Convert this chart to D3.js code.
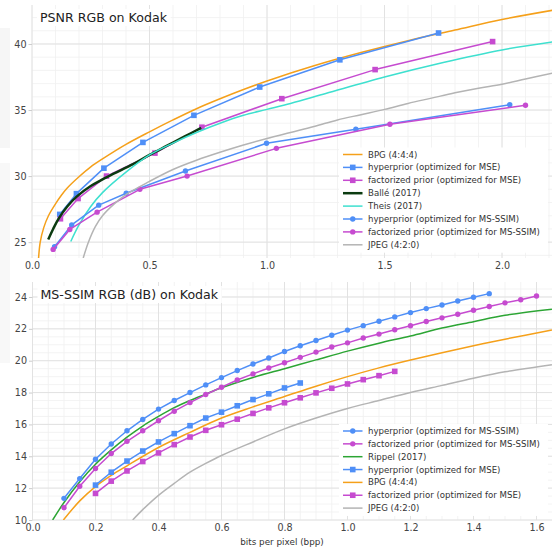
<!DOCTYPE html>
<html><head><meta charset="utf-8">
<script src="https://cdn.jsdelivr.net/npm/d3@7"></script>
<style>body{margin:0;background:#fff}svg{display:block;font-family:"DejaVu Sans",sans-serif}</style>
</head><body><svg id="c" width="552" height="548"></svg>
<script>
// ---------- PSNR panel data ----------
const psnrTicksX = [0.0, 0.5, 1.0, 1.5, 2.0];
const psnrTicksY = [25, 30, 35, 40];
const bpgPsnr = [[0.028,23.8],[0.035,25.0],[0.05,26.1],[0.07,27.0],[0.1,27.9],[0.125,28.55],[0.15,29.1],[0.2,29.95],[0.25,30.7],[0.3,31.3],[0.4,32.4],[0.5,33.35],[0.6,34.25],[0.7,35.1],[0.8,35.85],[0.9,36.55],[1.0,37.2],[1.2,38.35],[1.4,39.35],[1.6,40.25],[1.8,41.05],[2.0,41.85],[2.215,42.55]];
const hyperMsePsnr = [[0.118,27.1],[0.189,28.67],[0.306,30.6],[0.472,32.55],[0.689,34.6],[0.969,36.74],[1.31,38.8],[1.73,40.83]];
const factMsePsnr = [[0.121,26.77],[0.196,28.3],[0.317,30.0],[0.523,31.74],[0.723,33.7],[1.063,35.86],[1.46,38.06],[1.96,40.18]];
const ballePsnr = [[0.069,25.2],[0.09,26.0],[0.114,26.8],[0.15,27.7],[0.19,28.45],[0.25,29.25],[0.3,29.75],[0.35,30.2],[0.43,30.9],[0.5,31.6],[0.575,32.3],[0.65,33.0],[0.72,33.65]];
const theisPsnr = [[0.165,25.05],[0.2,26.3],[0.25,27.7],[0.3,28.75],[0.4,30.3],[0.5,31.6],[0.6,32.5],[0.7,33.3],[0.8,34.0],[0.9,34.6],[1.0,35.05],[1.1,35.5],[1.25,36.25],[1.5,37.5],[1.75,38.6],[2.0,39.55],[2.215,40.15]];
const hyperSsimPsnr = [[0.096,24.65],[0.169,26.3],[0.284,27.8],[0.401,28.7],[0.653,30.38],[0.998,32.48],[1.378,33.54],[2.033,35.4]];
const factSsimPsnr = [[0.09,24.45],[0.161,25.96],[0.277,27.27],[0.459,29.0],[0.66,30.0],[1.04,32.1],[1.523,33.92],[2.1,35.36]];
const jpegPsnr = [[0.218,23.8],[0.24,25.0],[0.27,26.2],[0.3,27.0],[0.35,27.9],[0.4,28.6],[0.5,29.6],[0.6,30.5],[0.7,31.2],[0.8,31.8],[0.9,32.35],[1.0,32.85],[1.1,33.3],[1.2,33.75],[1.3,34.25],[1.4,34.65],[1.5,35.05],[1.6,35.5],[1.7,35.9],[1.8,36.3],[1.9,36.65],[2.0,36.95],[2.1,37.35],[2.215,37.8]];

// ---------- MS-SSIM panel data ----------
const ssimTicksX = [0.0, 0.2, 0.4, 0.6, 0.8, 1.0, 1.2, 1.4, 1.6];
const ssimTicksY = [10, 12, 14, 16, 18, 20, 22, 24];
const rateSsimHyper = [0.1,0.15,0.2,0.25,0.3,0.35,0.4,0.45,0.5,0.55,0.6,0.65,0.7,0.75,0.8,0.85,0.9,0.95,1.0,1.05,1.1,1.15,1.2,1.25,1.3,1.35,1.4,1.45];
const hyperSsim = [11.36,12.6,13.81,14.77,15.6,16.31,16.96,17.5,18.0,18.48,18.94,19.38,19.79,20.17,20.58,20.94,21.27,21.6,21.92,22.2,22.48,22.75,23.02,23.27,23.5,23.75,23.98,24.21];
const rateSsimFact = [0.1,0.15,0.2,0.25,0.3,0.35,0.4,0.45,0.5,0.55,0.6,0.65,0.7,0.75,0.8,0.85,0.9,0.95,1.0,1.05,1.1,1.15,1.2,1.25,1.3,1.35,1.4,1.45,1.5,1.55,1.6];
const factSsim = [10.77,12.12,13.23,14.17,14.94,15.6,16.23,16.83,17.37,17.88,18.33,18.79,19.17,19.54,19.87,20.21,20.54,20.86,21.12,21.42,21.67,21.94,22.19,22.46,22.69,22.92,23.17,23.4,23.63,23.83,24.06];
const rippelSsim = [[0.064,10.0],[0.1,11.1],[0.15,12.4],[0.2,13.5],[0.25,14.4],[0.3,15.2],[0.35,15.9],[0.4,16.5],[0.45,17.05],[0.5,17.5],[0.55,17.9],[0.6,18.3],[0.7,18.95],[0.8,19.5],[0.9,20.05],[1.0,20.6],[1.1,21.1],[1.2,21.55],[1.3,22.05],[1.4,22.45],[1.5,22.85],[1.649,23.23]];
const rateMseHyper = [0.2,0.25,0.3,0.35,0.4,0.45,0.5,0.55,0.6,0.65,0.7,0.75,0.8,0.85];
const hyperMseSsim = [12.19,13.0,13.7,14.33,14.9,15.42,15.92,16.4,16.77,17.17,17.56,17.92,18.29,18.6];
const rateMseFact = [0.2,0.25,0.3,0.35,0.4,0.45,0.5,0.55,0.6,0.65,0.7,0.75,0.8,0.85,0.9,0.95,1.0,1.05,1.1,1.15];
const factMseSsim = [11.67,12.44,13.08,13.67,14.21,14.73,15.21,15.63,15.98,16.33,16.69,17.04,17.36,17.67,17.98,18.27,18.54,18.81,19.06,19.33];
const bpgSsim = [[0.098,10.0],[0.15,11.2],[0.2,12.1],[0.25,12.8],[0.3,13.4],[0.4,14.55],[0.5,15.5],[0.6,16.4],[0.7,17.1],[0.8,17.75],[0.9,18.4],[1.0,19.0],[1.1,19.55],[1.2,20.04],[1.3,20.5],[1.4,20.94],[1.5,21.35],[1.649,21.92]];
const jpegSsim = [[0.318,10.0],[0.35,10.65],[0.4,11.55],[0.45,12.3],[0.5,13.0],[0.55,13.55],[0.6,14.05],[0.7,14.9],[0.8,15.72],[0.9,16.4],[1.0,17.0],[1.1,17.5],[1.2,18.0],[1.3,18.45],[1.4,18.9],[1.5,19.3],[1.649,19.75]];

const zip = (xs, ys) => xs.map((x, i) => [x, ys[i]]);

const C = {blue:"#4f8ff7", mag:"#c64bd0", orange:"#f5a01a", turq:"#3ee0cf", dkgreen:"#0b3b10", green:"#2ca534", grey:"#b4b4b4"};

const svg = d3.select("#c");

// faint artefacts at the left edge of the original figure
svg.append("rect").attr("x", 0).attr("y", 28).attr("width", 10).attr("height", 120).attr("fill", "#f6f6f6");
svg.append("rect").attr("x", 0).attr("y", 163).attr("width", 10).attr("height", 200).attr("fill", "#f8f8f8");

function panel(cfg) {
  const g = svg.append("g");
  const x = d3.scaleLinear().domain(cfg.xd).range([cfg.l, cfg.r]);
  const y = d3.scaleLinear().domain(cfg.yd).range([cfg.b, cfg.t]);
  g.append("rect").attr("x", cfg.l).attr("y", cfg.t).attr("width", cfg.r - cfg.l).attr("height", cfg.b - cfg.t).attr("fill", "#fff");
  const grid = g.append("g");
  grid.selectAll(".mx").data(d3.range(cfg.xd[0], cfg.xd[1] + 1e-9, cfg.mx)).join("line")
    .attr("x1", d => x(d)).attr("x2", d => x(d)).attr("y1", cfg.t).attr("y2", cfg.b)
    .attr("stroke", "#f0f0f0").attr("stroke-width", 0.8);
  grid.selectAll(".my").data(d3.range(Math.ceil(cfg.yd[0] / cfg.my) * cfg.my, cfg.yd[1], cfg.my)).join("line")
    .attr("x1", cfg.l).attr("x2", cfg.r).attr("y1", d => y(d)).attr("y2", d => y(d))
    .attr("stroke", "#f0f0f0").attr("stroke-width", 0.8);
  grid.selectAll(".Mx").data(cfg.tx).join("line")
    .attr("x1", d => x(d)).attr("x2", d => x(d)).attr("y1", cfg.t).attr("y2", cfg.b)
    .attr("stroke", "#e2e2e2").attr("stroke-width", 1);
  grid.selectAll(".My").data(cfg.ty).join("line")
    .attr("x1", cfg.l).attr("x2", cfg.r).attr("y1", d => y(d)).attr("y2", d => y(d))
    .attr("stroke", "#e2e2e2").attr("stroke-width", 1);
  const ax = g.append("g").attr("transform", `translate(0,${cfg.b})`)
    .call(d3.axisBottom(x).tickValues(cfg.tx).tickFormat(d3.format(".1f")).tickSize(0).tickPadding(4));
  const ay = g.append("g").attr("transform", `translate(${cfg.l},0)`)
    .call(d3.axisLeft(y).tickValues(cfg.ty).tickFormat(d3.format("d")).tickSize(3.5).tickPadding(2));
  [ax, ay].forEach(a => {
    a.select(".domain").remove();
    a.selectAll("text").attr("font-size", 9.6).attr("fill", "#444").attr("font-family", "DejaVu Sans");
    a.selectAll("line").attr("stroke", "#ccc");
  });
  // title with white backing
  const tg = g.append("g");
  const bgr = tg.append("rect").attr("fill", "#fff");
  const tt = tg.append("text").attr("x", cfg.l + 8).attr("y", cfg.t + 17).text(cfg.title)
    .attr("font-size", 12.6).attr("fill", "#222");
  const bb = tt.node().getBBox();
  bgr.attr("x", bb.x - 3).attr("y", bb.y - 1).attr("width", bb.width + 6).attr("height", bb.height + 2);
  // clip
  const cid = "clip" + cfg.id;
  svg.append("clipPath").attr("id", cid).append("rect")
    .attr("x", cfg.l).attr("y", cfg.t).attr("width", cfg.r - cfg.l).attr("height", cfg.b - cfg.t);
  const pg = g.append("g").attr("clip-path", `url(#${cid})`);
  cfg.series.forEach(s => {
    const line = d3.line().x(d => x(d[0])).y(d => y(d[1])).curve(s.smooth ? d3.curveCatmullRom.alpha(0.5) : d3.curveLinear);
    pg.append("path").attr("d", line(s.data)).attr("fill", "none").attr("stroke", s.color)
      .attr("stroke-width", s.w || 1.5).attr("stroke-linejoin", "round");
    if (s.marker === "sq") {
      pg.selectAll(null).data(s.data).join("rect")
        .attr("x", d => x(d[0]) - 2.8).attr("y", d => y(d[1]) - 2.8).attr("width", 5.6).attr("height", 5.6).attr("fill", s.color);
    } else if (s.marker === "o") {
      pg.selectAll(null).data(s.data).join("circle")
        .attr("cx", d => x(d[0])).attr("cy", d => y(d[1])).attr("r", 2.7).attr("fill", s.color);
    }
  });
  // legend
  const lg = g.append("g");
  const items = cfg.legendOrder.map(i => cfg.series[i]);
  lg.append("rect").attr("x", cfg.lgx - 4).attr("y", cfg.lgy - 7).attr("width", cfg.r - cfg.lgx).attr("height", items.length * cfg.lgdy + 2)
    .attr("fill", "#fff");
  items.forEach((s, i) => {
    const yy = cfg.lgy + i * cfg.lgdy;
    lg.append("line").attr("x1", cfg.lgx).attr("x2", cfg.lgx + 19.5).attr("y1", yy).attr("y2", yy)
      .attr("stroke", s.color).attr("stroke-width", s.w || 1.5);
    if (s.marker === "sq") lg.append("rect").attr("x", cfg.lgx + 9.75 - 2.8).attr("y", yy - 2.8).attr("width", 5.6).attr("height", 5.6).attr("fill", s.color);
    if (s.marker === "o") lg.append("circle").attr("cx", cfg.lgx + 9.75).attr("cy", yy).attr("r", 2.7).attr("fill", s.color);
    lg.append("text").attr("x", cfg.lgx + 25).attr("y", yy).attr("dy", "0.35em").text(s.name)
      .attr("font-size", 8.6).attr("fill", "#333");
  });
  return {x, y};
}

panel({
  id: 1, title: "PSNR RGB on Kodak", l: 32, r: 552, t: 5, b: 258,
  xd: [0, 520 / 235], yd: [23.8, 42.95], mx: 0.1, my: 1, tx: psnrTicksX, ty: psnrTicksY,
  series: [
    {name: "BPG (4:4:4)", data: bpgPsnr, color: C.orange, smooth: true},
    {name: "hyperprior (optimized for MSE)", data: hyperMsePsnr, color: C.blue, marker: "sq"},
    {name: "factorized prior (optimized for MSE)", data: factMsePsnr, color: C.mag, marker: "sq"},
    {name: "Ballé (2017)", data: ballePsnr, color: C.dkgreen, smooth: true, w: 2.5},
    {name: "Theis (2017)", data: theisPsnr, color: C.turq, smooth: true},
    {name: "hyperprior (optimized for MS-SSIM)", data: hyperSsimPsnr, color: C.blue, marker: "o"},
    {name: "factorized prior (optimized for MS-SSIM)", data: factSsimPsnr, color: C.mag, marker: "o"},
    {name: "JPEG (4:2:0)", data: jpegPsnr, color: C.grey, smooth: true}
  ],
  legendOrder: [0,1,2,3,4,5,6,7], lgx: 343, lgy: 154.5, lgdy: 12.9
});

panel({
  id: 2, title: "MS-SSIM RGB (dB) on Kodak", l: 32.5, r: 552, t: 282, b: 520,
  xd: [0, 519.5 / 315], yd: [10, 24.94], mx: 0.05, my: 0.5, tx: ssimTicksX, ty: ssimTicksY,
  series: [
    {name: "JPEG (4:2:0)", data: jpegSsim, color: C.grey, smooth: true},
    {name: "BPG (4:4:4)", data: bpgSsim, color: C.orange, smooth: true},
    {name: "factorized prior (optimized for MSE)", data: zip(rateMseFact, factMseSsim), color: C.mag, marker: "sq"},
    {name: "hyperprior (optimized for MSE)", data: zip(rateMseHyper, hyperMseSsim), color: C.blue, marker: "sq"},
    {name: "Rippel (2017)", data: rippelSsim, color: C.green, smooth: true},
    {name: "factorized prior (optimized for MS-SSIM)", data: zip(rateSsimFact, factSsim), color: C.mag, marker: "o"},
    {name: "hyperprior (optimized for MS-SSIM)", data: zip(rateSsimHyper, hyperSsim), color: C.blue, marker: "o"}
  ],
  legendOrder: [6,5,4,3,1,2,0], lgx: 343, lgy: 431, lgdy: 12.85
});

svg.append("text").attr("x", 282).attr("y", 545).attr("text-anchor", "middle")
  .attr("font-size", 8.8).attr("fill", "#333").text("bits per pixel (bpp)");
</script></body></html>
